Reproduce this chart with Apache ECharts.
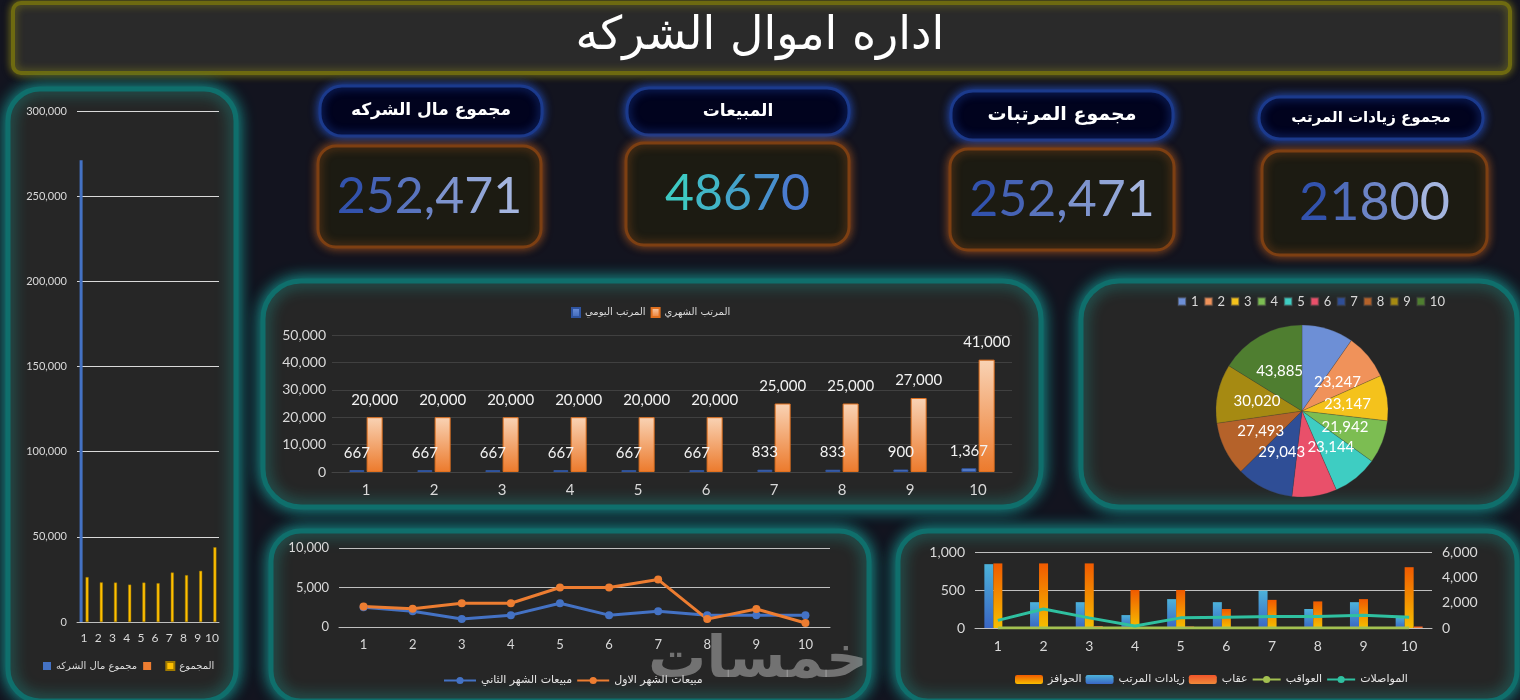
<!DOCTYPE html>
<html><head><meta charset="utf-8">
<script src="https://cdn.jsdelivr.net/npm/echarts/dist/echarts.min.js"></script>
<style>html,body{margin:0;padding:0;background:#13141f;overflow:hidden}#c{width:1520px;height:700px}</style>
</head><body><div id="c"></div><script>
// ---------- data ----------
const titleText = 'اداره اموال الشركه';
const kpiLabels = ['مجموع مال الشركه', 'المبيعات', 'مجموع المرتبات', 'مجموع زيادات المرتب'];
const kpiValues = ['252,471', '48670', '252,471', '21800'];

const categories = ['1','2','3','4','5','6','7','8','9','10'];

// left chart
const companyMoney = [271075, '-', '-', '-', '-', '-', '-', '-', '-', '-'];
const emptySeries = ['-', '-', '-', '-', '-', '-', '-', '-', '-', '-'];
const totals = [26367, 23247, 23147, 21942, 23144, 22787, 29043, 27493, 30020, 43885];

// middle bar chart
const dailySalary = [667, 667, 667, 667, 667, 667, 833, 833, 900, 1367];
const monthlySalary = [20000, 20000, 20000, 20000, 20000, 20000, 25000, 25000, 27000, 41000];

// bottom-left line chart
const salesMonth2 = [2500, 2000, 1000, 1500, 3000, 1500, 2000, 1500, 1500, 1500];
const salesMonth1 = [2600, 2300, 3000, 3000, 5000, 5000, 6000, 1000, 2270, 500];

// bottom-right combo chart
const incentives = [850, 850, 850, 500, 500, 250, 370, 350, 380, 800];
const raises = [840, 340, 340, 170, 380, 340, 490, 250, 340, 160];
const penalties = [0, 0, 25, 0, 20, 0, 0, 0, 0, 20];
const consequences = [0, 0, 0, 0, 0, 0, 0, 0, 0, 0];
const transport = [600, 1500, 800, 150, 800, 850, 900, 900, 1000, 850];

const pieColors = ['#6d8fd6', '#f0925a', '#f4c21c', '#7cbd52', '#3ecdc2', '#e9506a', '#2f4e96', '#b5622a', '#a68a12', '#4f7e30'];

// ---------- helpers ----------
const fmt = v => Number(v).toLocaleString('en-US');
const NUM = 'Lato';
const AR = 'DejaVu Sans';
const LG = (c1, c2) => new echarts.graphic.LinearGradient(0, 0, 0, 1, [{offset: 0, color: c1}, {offset: 1, color: c2}]);

function hex(c) { return [parseInt(c.slice(1, 3), 16), parseInt(c.slice(3, 5), 16), parseInt(c.slice(5, 7), 16)]; }
function mix(c1, c2, t) {
  const a = hex(c1), b = hex(c2);
  return 'rgb(' + a.map((v, i) => Math.round(v + (b[i] - v) * t)).join(',') + ')';
}

function panel(x, y, w, h, r) {
  return {type: 'rect', z: -10, shape: {x: x, y: y, width: w, height: h, r: r},
    style: {fill: '#262626', stroke: '#0f6f6c', lineWidth: 5, shadowBlur: 16, shadowColor: 'rgba(25,200,190,0.75)'}};
}
function pill(x, y, w, h) {
  return {type: 'rect', z: -10, shape: {x: x, y: y, width: w, height: h, r: 22},
    style: {fill: '#01031e', stroke: '#1b3a8c', lineWidth: 3, shadowBlur: 10, shadowColor: 'rgba(40,90,220,0.8)'}};
}
function vbox(x, y, w, h) {
  return {type: 'rect', z: -10, shape: {x: x, y: y, width: w, height: h, r: 18},
    style: {fill: '#1c1b12', stroke: '#7d3f12', lineWidth: 3, shadowBlur: 10, shadowColor: 'rgba(200,100,30,0.7)'}};
}
function txt(t, x, y, font, fill, z) {
  return {type: 'text', z: z || 10, x: x, y: y, style: {text: t, font: font, fill: fill, align: 'center', verticalAlign: 'middle'}};
}
// per-character colour ramp to imitate a horizontal gradient fill
function gradText(t, x, y, size, c1, c2) {
  const chars = t.split('');
  const rich = {};
  let s = '';
  chars.forEach((ch, i) => {
    const k = 'c' + i;
    rich[k] = {fill: mix(c1, c2, chars.length > 1 ? i / (chars.length - 1) : 0), fontSize: size, fontFamily: NUM};
    s += '{' + k + '|' + ch + '}';
  });
  return {type: 'text', z: 10, x: x, y: y,
    style: {text: s, rich: rich, fontSize: size, fontFamily: NUM, align: 'center', verticalAlign: 'middle'}};
}

const pills = [[320, 86, 222, 50], [627, 88, 222, 47], [951, 91, 222, 49], [1259, 97, 224, 42]];
const vboxes = [[318, 146, 223, 101], [626, 143, 223, 102], [950, 149, 224, 101], [1262, 151, 225, 104]];
const labelFonts = ['bold 17px "DejaVu Sans"', 'bold 17px "DejaVu Sans"', 'bold 19px "DejaVu Sans"', 'bold 15px "DejaVu Sans"'];
const valueRamps = [['#3353ad', '#a4b5df'], ['#3ec9c3', '#4a7ccf'], ['#3353ad', '#a4b5df'], ['#3353ad', '#a4b5df']];

const graphics = [
  {type: 'rect', z: -10, shape: {x: 13, y: 3, width: 1497, height: 70, r: 8},
    style: {fill: '#2a2a2a', stroke: '#6e6a10', lineWidth: 4, shadowBlur: 8, shadowColor: 'rgba(180,170,20,0.6)'}},
  txt(titleText, 760, 37, '46px "DejaVu Sans"', '#ffffff'),
  panel(8, 89, 228, 612, 32),
  panel(263, 281, 778, 226, 38),
  panel(1081, 281, 436, 226, 38),
  panel(271, 531, 598, 170, 30),
  panel(898, 531, 619, 170, 30)
];
pills.forEach((p, i) => {
  graphics.push(pill(p[0], p[1], p[2], p[3]));
  graphics.push(txt(kpiLabels[i], p[0] + p[2] / 2, p[1] + p[3] / 2, labelFonts[i], '#ffffff'));
});
vboxes.forEach((b, i) => {
  graphics.push(vbox(b[0], b[1], b[2], b[3]));
  graphics.push(gradText(kpiValues[i], b[0] + b[2] / 2, b[1] + b[3] / 2, i === 3 ? 52 : 50, valueRamps[i][0], valueRamps[i][1]));
});
graphics.push(txt('خمسات', 758, 662, 'bold 58px "DejaVu Sans"', 'rgba(190,190,190,0.5)', 100));

const axisLbl = (size) => ({color: '#d9d9d9', fontSize: size, fontFamily: NUM});

const option = {
  backgroundColor: '#13141f',
  animation: false,
  graphic: graphics,
  grid: [
    {left: 77, top: 111, width: 142, height: 511},
    {left: 332, top: 335, width: 680, height: 137},
    {left: 339, top: 548, width: 491, height: 79},
    {left: 975, top: 552, width: 457, height: 76}
  ],
  xAxis: [
    {type: 'category', gridIndex: 0, data: categories, axisTick: {show: false},
      axisLine: {lineStyle: {color: '#bfbfbf'}}, axisLabel: Object.assign(axisLbl(12), {margin: 10, interval: 0})},
    {type: 'category', gridIndex: 1, data: categories, axisTick: {show: false},
      axisLine: {lineStyle: {color: '#444'}}, axisLabel: Object.assign(axisLbl(15), {margin: 11})},
    {type: 'category', gridIndex: 2, data: categories, axisTick: {show: false},
      axisLine: {lineStyle: {color: '#bfbfbf'}}, axisLabel: Object.assign(axisLbl(13), {margin: 11})},
    {type: 'category', gridIndex: 3, data: categories, axisTick: {show: false},
      axisLine: {lineStyle: {color: '#bfbfbf'}}, axisLabel: Object.assign(axisLbl(14), {margin: 11})}
  ],
  yAxis: [
    {type: 'value', gridIndex: 0, min: 0, max: 300000, interval: 50000,
      axisLabel: Object.assign(axisLbl(11), {formatter: fmt, margin: 10}),
      splitLine: {lineStyle: {color: '#d9d9d9'}}},
    {type: 'value', gridIndex: 1, min: 0, max: 50000, interval: 10000,
      axisLabel: Object.assign(axisLbl(14), {formatter: fmt, margin: 6}),
      splitLine: {lineStyle: {color: '#404040'}}},
    {type: 'value', gridIndex: 2, min: 0, max: 10000, interval: 5000,
      axisLabel: Object.assign(axisLbl(13), {formatter: fmt, margin: 10}),
      splitLine: {lineStyle: {color: '#bfbfbf'}}},
    {type: 'value', gridIndex: 3, min: 0, max: 1000, interval: 500,
      axisLabel: Object.assign(axisLbl(14), {formatter: fmt, margin: 10}),
      splitLine: {lineStyle: {color: '#bfbfbf'}}},
    {type: 'value', gridIndex: 3, min: 0, max: 6000, interval: 2000, position: 'right',
      axisLabel: Object.assign(axisLbl(14), {formatter: fmt, margin: 10}),
      splitLine: {show: false}}
  ],
  legend: [
    {data: ['مجموع مال الشركه', '\u00a0', 'المجموع'], left: 38, top: 656, itemWidth: 8, itemHeight: 8, itemGap: 6,
      icon: 'rect', textStyle: {color: '#d9d9d9', fontSize: 10, fontFamily: AR}},
    {data: ['المرتب اليومي', 'المرتب الشهري'], left: 566, top: 302, itemWidth: 8, itemHeight: 9, itemGap: 5,
      icon: 'rect', textStyle: {color: '#d9d9d9', fontSize: 10, fontFamily: AR}},
    {data: categories, left: 1172, top: 290, itemWidth: 8, itemHeight: 8, itemGap: 5, icon: 'rect',
      textStyle: {color: '#d9d9d9', fontSize: 13, fontFamily: NUM}},
    {data: ['مبيعات الشهر الثاني', 'مبيعات الشهر الاول'], left: 438, top: 670, itemWidth: 32, itemHeight: 9, itemGap: 4,
      textStyle: {color: '#e6e6e6', fontSize: 11, fontFamily: AR}},
    {data: ['الحوافز', 'زيادات المرتب', 'عقاب', 'العواقب', 'المواصلات'], left: 1010, top: 669, itemWidth: 28, itemHeight: 9, itemGap: 4,
      textStyle: {color: '#e6e6e6', fontSize: 11, fontFamily: AR}}
  ],
  series: [
    // left chart
    {type: 'bar', name: 'مجموع مال الشركه', xAxisIndex: 0, yAxisIndex: 0, data: companyMoney, barWidth: 3, barGap: '0%',
      itemStyle: {color: '#4472c4'}},
    {type: 'bar', name: '\u00a0', xAxisIndex: 0, yAxisIndex: 0, data: emptySeries, barWidth: 3, barGap: '0%',
      itemStyle: {color: '#ed7d31'}},
    {type: 'bar', name: 'المجموع', xAxisIndex: 0, yAxisIndex: 0, data: totals, barWidth: 3, barGap: '0%',
      itemStyle: {color: '#ffc000', borderColor: '#a07a00', borderWidth: 0.5}},
    // middle chart
    {type: 'bar', name: 'المرتب اليومي', xAxisIndex: 1, yAxisIndex: 1, data: dailySalary, barWidth: 15, barGap: '15%',
      itemStyle: {color: LG('#6f93dc', '#3d66b8'), borderColor: '#2f54a0', borderWidth: 1},
      label: {show: true, position: 'top', distance: 10, formatter: p => fmt(p.value), color: '#f2f2f2', fontSize: 15, fontFamily: NUM}},
    {type: 'bar', name: 'المرتب الشهري', xAxisIndex: 1, yAxisIndex: 1, data: monthlySalary, barWidth: 16, barGap: '15%',
      itemStyle: {color: LG('#f9d3b5', '#ec7a2c'), borderColor: '#e0701f', borderWidth: 1},
      label: {show: true, position: 'top', distance: 10, formatter: p => fmt(p.value), color: '#f2f2f2', fontSize: 15, fontFamily: NUM}},
    // pie
    {type: 'pie', center: [1302, 411], radius: 86, startAngle: 90, clockwise: true,
      data: categories.map((c, i) => ({name: c, value: totals[i]})),
      itemStyle: {color: p => pieColors[p.dataIndex], borderColor: 'rgba(60,60,60,0.5)', borderWidth: 0.5},
      label: {show: true, position: 'inside', formatter: p => fmt(p.value), color: '#ffffff', fontSize: 15, fontFamily: NUM},
      labelLine: {show: false}},
    // bottom-left lines
    {type: 'line', name: 'مبيعات الشهر الثاني', xAxisIndex: 2, yAxisIndex: 2, data: salesMonth2,
      symbol: 'circle', symbolSize: 8, lineStyle: {width: 3, color: '#4472c4'}, itemStyle: {color: '#4472c4'}},
    {type: 'line', name: 'مبيعات الشهر الاول', xAxisIndex: 2, yAxisIndex: 2, data: salesMonth1,
      symbol: 'circle', symbolSize: 8, lineStyle: {width: 3, color: '#ed7d31'}, itemStyle: {color: '#ed7d31'}},
    // bottom-right combo
    {type: 'bar', name: 'زيادات المرتب', xAxisIndex: 3, yAxisIndex: 3, data: raises, barWidth: 9, barGap: '0%',
      itemStyle: {color: LG('#4cb2da', '#3a66c4')}},
    {type: 'bar', name: 'الحوافز', xAxisIndex: 3, yAxisIndex: 3, data: incentives, barWidth: 9, barGap: '0%',
      itemStyle: {color: LG('#f05a00', '#f6be00')}},
    {type: 'bar', name: 'عقاب', xAxisIndex: 3, yAxisIndex: 3, data: penalties, barWidth: 9, barGap: '0%',
      itemStyle: {color: LG('#f0542a', '#f08a3a')}},
    {type: 'line', name: 'العواقب', xAxisIndex: 3, yAxisIndex: 3, data: consequences, symbol: 'none',
      lineStyle: {width: 3, color: '#a3c050'}, itemStyle: {color: '#a3c050'}},
    {type: 'line', name: 'المواصلات', xAxisIndex: 3, yAxisIndex: 4, data: transport, symbol: 'none',
      lineStyle: {width: 3, color: '#2fc0a0'}, itemStyle: {color: '#2fc0a0'}}
  ]
};
const chart = echarts.init(document.getElementById('c'), null, {renderer: 'canvas'});
chart.setOption(option);
</script></body></html>
